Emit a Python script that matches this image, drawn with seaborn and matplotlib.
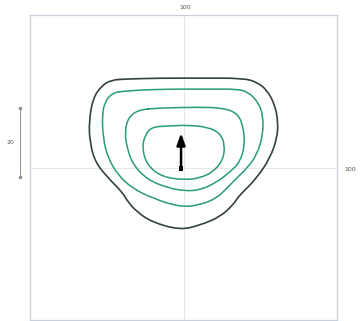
import matplotlib
matplotlib.use("Agg")
import matplotlib.pyplot as plt
from matplotlib.path import Path
from matplotlib.patches import PathPatch
import seaborn as sns

# contour lines (box is 0..100 on both axes)
outer_x = [30.9, 42.3, 55.4, 69.4, 73.9, 77.2, 79.8, 80.8, 80.5, 78.2, 73.9, 69.4, 67.8, 66.1,
           61.9, 55.4, 48.9, 39.7, 34.9, 31.9, 30.0, 25.4, 21.2, 19.5, 19.2, 20.5, 23.5, 26.7]
outer_y = [79.0, 79.3, 79.3, 79.3, 78.0, 75.4, 70.5, 64.9, 59.7, 53.1, 46.6, 42.0, 40.3, 37.7,
           33.8, 31.1, 29.5, 32.1, 35.4, 38.7, 42.0, 46.6, 51.8, 58.4, 64.9, 72.8, 77.0, 78.7]

ring2_x = [30.9, 42.3, 59.6, 67.4, 71.0, 74.3, 75.9, 75.9, 73.9, 70.7, 67.4, 64.2, 60.9, 55.4,
           48.9, 39.7, 33.2, 28.7, 25.4, 23.8, 23.5, 24.4, 26.7]
ring2_y = [75.1, 75.7, 75.7, 75.7, 74.8, 71.5, 67.2, 60.7, 54.1, 49.8, 46.6, 43.3, 40.0, 37.7,
           37.0, 40.0, 43.3, 47.5, 53.1, 59.7, 67.2, 71.5, 74.4]

ring3_x = [41.7, 55.4, 62.9, 67.4, 69.4, 70.0, 68.4, 65.1, 60.9, 55.4, 50.5, 45.0, 38.4, 33.6,
           31.6, 30.9, 31.9, 35.2]
ring3_y = [69.5, 69.8, 69.5, 67.9, 63.9, 57.4, 51.8, 48.5, 45.2, 42.6, 42.3, 43.3, 45.9, 50.8,
           56.4, 61.6, 66.2, 68.9]

ring4_x = [45.0, 51.1, 57.7, 61.9, 63.5, 62.9, 59.6, 55.4, 50.5, 43.0, 38.1, 36.5, 37.5, 39.7]
ring4_y = [63.6, 63.9, 63.3, 61.3, 57.4, 52.5, 48.5, 46.6, 45.9, 46.9, 50.8, 56.4, 60.7, 63.3]

arrow_base = (49.2, 49.8)
arrow_tip = (49.2, 61.3)

scale_bar = (47.0, 69.5)
scale_label = "20"
size_label = "100"

sns.set_style("white")
fig = plt.figure(figsize=(3.61, 3.21), dpi=100)
ax = fig.add_axes([30 / 361, 1 - 320 / 321, 307 / 361, 305 / 321])

dark = "#34423f"
green = "#2a9c76"


def smooth_ring(xs, ys, color, lw):
    # closed curve, drawn with quadratic beziers through the midpoints
    pts = list(zip(xs, ys))
    n = len(pts)
    mid = lambda a, b: ((a[0] + b[0]) / 2, (a[1] + b[1]) / 2)
    verts = [mid(pts[-1], pts[0])]
    codes = [Path.MOVETO]
    for i in range(n):
        verts += [pts[i], mid(pts[i], pts[(i + 1) % n])]
        codes += [Path.CURVE3, Path.CURVE3]
    ax.add_patch(PathPatch(Path(verts, codes), fill=False, edgecolor=color, lw=lw,
                           capstyle="round", joinstyle="round"))


smooth_ring(outer_x, outer_y, dark, 1.2)
for xs, ys in [(ring2_x, ring2_y), (ring3_x, ring3_y), (ring4_x, ring4_y)]:
    smooth_ring(xs, ys, green, 1.1)

# faint centre cross
ax.axvline(50, color="#e6e8ec", lw=0.8, zorder=0)
ax.axhline(50, color="#e6e8ec", lw=0.8, zorder=0)

# arrow
ax.annotate("", xy=arrow_tip, xytext=arrow_base,
            arrowprops=dict(arrowstyle="-|>,head_length=0.7,head_width=0.25", color="black",
                            lw=1.8, shrinkA=0, shrinkB=0))
sns.scatterplot(x=[arrow_base[0]], y=[arrow_base[1]], marker="s", s=12, color="black",
                edgecolor="none", ax=ax)

ax.set_xlim(0, 100)
ax.set_ylim(0, 100)
ax.set_xticks([])
ax.set_yticks([])
for s in ax.spines.values():
    s.set_color("#c9d0da")
    s.set_linewidth(0.9)

# scale bar on the left
ax.plot([-3.3, -3.3], list(scale_bar), color="#9a9ea6", lw=0.8, clip_on=False)
ax.plot([-3.3, -3.3], list(scale_bar), ls="none", marker="o", ms=1.5, color="#8a8e96", clip_on=False)
ax.text(-6.5, sum(scale_bar) / 2, scale_label, fontsize=4.5, color="#555555",
        ha="center", va="center", clip_on=False)

ax.text(50.5, 102.5, size_label, fontsize=4.5, color="#555555", ha="center", va="center", clip_on=False)
ax.text(102.5, 49.5, size_label, fontsize=4.5, color="#555555", ha="left", va="center", clip_on=False)

fig.savefig("out.png", dpi=100)
